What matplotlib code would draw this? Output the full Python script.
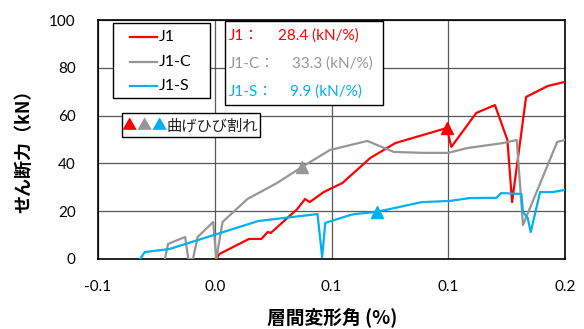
import numpy as np
import matplotlib
matplotlib.use('Agg')
from matplotlib import pyplot as plt
from matplotlib.patches import Rectangle
from matplotlib.lines import Line2D

plt.rcParams['font.family'] = ['Lato', 'Noto Sans CJK JP', 'DejaVu Sans']

# データ (層間変形角 %, せん断力 kN)
j1_x = [-0.024, -0.022, -0.003, 0.005, 0.009, 0.011, 0.028, 0.033, 0.036, 0.045, 0.057,
        0.075, 0.091, 0.124, 0.127, 0.143, 0.155, 0.163, 0.166, 0.175, 0.189, 0.200]
j1_y = [0.0, 2.1, 8.4, 8.4, 11.3, 10.9, 20.9, 25.1, 23.8, 28.0, 31.8,
        42.3, 48.5, 54.8, 46.9, 61.1, 64.4, 49.8, 23.8, 67.8, 72.4, 74.1]

j1c_x = [-0.057, -0.055, -0.049, -0.044, -0.042, -0.039, -0.036, -0.026, -0.024, -0.020,
         -0.004, 0.015, 0.031, 0.049, 0.073, 0.090, 0.109, 0.125, 0.137, 0.160, 0.169,
         0.173, 0.195, 0.200]
j1c_y = [0.0, 6.3, 7.9, 9.2, 0.0, 0.0, 9.2, 15.5, 0.0, 15.5,
         25.1, 31.8, 38.5, 45.6, 49.4, 44.8, 44.4, 44.4, 46.4, 48.5, 49.8,
         14.2, 49.0, 49.8]

j1s_x = [-0.073, -0.070, -0.054, 0.003, 0.041, 0.044, 0.046, 0.062, 0.065, 0.079, 0.108,
         0.126, 0.139, 0.156, 0.159, 0.172, 0.173, 0.176, 0.178, 0.184, 0.192, 0.200]
j1s_y = [0.0, 2.9, 4.2, 15.9, 18.8, 0.8, 15.1, 18.4, 18.8, 19.7, 23.8,
         24.3, 25.5, 25.6, 27.6, 27.2, 19.7, 17.2, 11.3, 28.0, 28.0, 28.9]

# 曲げひび割れ点
crack_x = [0.124, 0.031, 0.079]
crack_y = [54.8, 38.5, 19.7]

names = ['J1', 'J1-C', 'J1-S']
colors = ['#FF0000', '#969696', '#00B0F0']
stiffness = ['28.4', '33.3', '9.9']

xticks = np.linspace(-0.1, 0.2, 5)
xtick_labels = ['-0.1', '0.0', '0.1', '0.1', '0.2']
yticks = [0, 20, 40, 60, 80, 100]

W, H = 584, 329
fig = plt.figure(figsize=(W / 100, H / 100), dpi=100)
ax = fig.add_axes([98 / W, 1 - 259 / H, (565 - 98) / W, (259 - 20) / H])

for xs, ys, c, n in zip([j1_x, j1c_x, j1s_x], [j1_y, j1c_y, j1s_y], colors, names):
    ax.plot(xs, ys, color=c, lw=1.6, label=n, zorder=3)
for cx, cy, c in zip(crack_x, crack_y, colors):
    ax.plot(cx, cy, marker='^', ms=9, color=c, zorder=4)

ax.set_xlim(-0.1, 0.2)
ax.set_ylim(0, 100)
ax.set_xticks(xticks)
ax.set_xticklabels(xtick_labels)
ax.set_yticks(yticks)
ax.tick_params(length=0, labelsize=11)
ax.tick_params(axis='x', pad=15)
ax.tick_params(axis='y', pad=16)
ax.grid(True, color='#595959', lw=0.9)
ax.set_axisbelow(True)
for s in ax.spines.values():
    s.set_color('black')
    s.set_linewidth(1.2)

fig.text(332 / W, 1 - 317 / H, '層間変形角 (%)', ha='center', va='center',
         fontsize=13.5, fontweight='bold', family=['Noto Sans CJK JP'])
fig.text(24 / W, 1 - 147 / H, 'せん断力（kN）', ha='center', va='center', rotation=90,
         fontsize=13, fontweight='bold', family=['Noto Sans CJK JP'])


def box(x0, y0, x1, y1):
    fig.add_artist(Rectangle((x0 / W, 1 - y1 / H), (x1 - x0) / W, (y1 - y0) / H,
                             transform=fig.transFigure, facecolor='white',
                             edgecolor='black', lw=1.0, zorder=5))


# 凡例
box(113, 23, 210, 98)
for i, (n, c) in enumerate(zip(names, colors)):
    y = 1 - (37 + 24.5 * i) / H
    fig.add_artist(Line2D([130 / W, 157 / W], [y, y], color=c, lw=1.6,
                          transform=fig.transFigure, zorder=6))
    fig.text(159 / W, y, n, fontsize=11.5, va='center', zorder=6)

# 剛性の枠
box(225, 21, 383, 105)
val_left = [278, 292, 290]
for i, (n, c, k) in enumerate(zip(names, colors, stiffness)):
    y = 1 - (36 + 28 * i) / H
    fig.text(229 / W, y, n + '：', color=c, fontsize=11, va='center', zorder=6)
    fig.text(val_left[i] / W, y, k + ' (kN/%)', color=c, fontsize=11, va='center',
             zorder=6)

# 曲げひび割れの枠
box(122, 113, 260, 137)
for i, c in enumerate(colors):
    fig.text((129 + 15 * i) / W, 1 - 126 / H, '▲', color=c, fontsize=11, ha='center',
             va='center', family=['Noto Sans CJK JP'], zorder=6)
fig.text(167 / W, 1 - 126 / H, '曲げひび割れ', fontsize=11, va='center',
         family=['Noto Sans CJK JP'], color='#222222', zorder=6)

fig.savefig('out.png', dpi=100)
